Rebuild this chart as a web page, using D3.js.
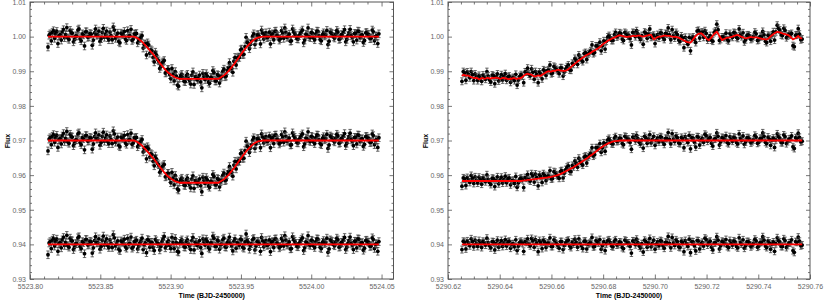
<!DOCTYPE html>
<html>
<head>
<meta charset="utf-8">
<script src="https://cdn.jsdelivr.net/npm/d3@7"></script>
<style>
  body { margin: 0; background: #fff; }
</style>
</head>
<body>
<script>
// ---- data (flux values in units of 1e-4, relative to each curve's baseline) ----
var leftT0 = 5523.8128, leftDt = 0.000787;   // first timestamp, cadence (days)
var rightT0 = 5290.6254, rightDt = 0.000508;

// transit model at each left timestamp
var leftModel = [
  0,0,0,0,0,0,0,0,0,0, 0,0,0,0,0,0,0,0,0,0, 0,0,0,0,0,0,0,0,0,0, 0,0,0,0,0,0,0,0,0,0,
  0,0,0,0,0,0,0,0,0,0, 0,0,0,0,0,0,0,0,0,0, 0,0,0,0,0,0,0,0,0,0, 0,0,0,0,0,0,0,0,0,-2,
  -3,-5,-7,-10,-12,-15,-18,-22,-25,-29, -32,-36,-40,-44,-47,-51,-55,-59,-63,-68,
  -72,-76,-80,-84,-88,-92,-95,-99,-102,-105, -107,-110,-112,-114,-116,-118,-119,-120,-121,-122,
  -122,-122,-122,-122,-122,-122,-122,-122,-122,-122, -122,-122,-122,-122,-122,-122,-122,-122,-122,-122,
  -122,-122,-122,-122,-122,-122,-122,-122,-122,-122, -122,-122,-122,-122,-122,-120,
  -118,-116,-114,-112,-109,-106,-103,-100,-96,-92, -88,-84,-80,-76,-71,-67,-62,-58,-53,-49,
  -44,-40,-36,-32,-28,-25,-21,-18,-14,-12, -9,-7,-5,-4,-2,-2,-1,-1,
  0,0,0,0,0,0,0,0,0,0, 0,0,0,0,0,0,0,0,0,0, 0,0,0,0,0,0,0,0,0,0, 0,0,0,0,0,0,0,0,0,0,
  0,0,0,0,0,0,0,0,0,0, 0,0,0,0,0,0,0,0,0,0, 0,0,0,0,0,0,0,0,0,0, 0,0,0,0,0,0,0,0,0,0,
  0,0,0,0,0,0,0,0,0,0, 0,0,0,0,0,0,0,0,0,0, 0,0,0,0,0,0
];
var leftResid = [
  -30,4,8,-12,12,17,-5,9,15,-20,3,6,-10,13,20,-3,6,26,-4,-8,
  18,11,10,-15,-8,2,2,19,22,-6,-12,8,5,-27,14,14,-2,0,9,7,
  -25,-10,11,22,4,5,16,-14,-6,12,24,-2,7,16,-3,-9,13,3,-9,28,
  19,-5,1,10,-14,-18,10,7,6,15,-7,-11,17,1,3,21,-11,-7,8,9,
  12,-13,-5,4,9,18,-15,-1,4,-24,14,12,-8,6,6,-9,-18,14,10,2,
  2,-16,-6,8,15,23,-10,-4,7,10,-3,-12,20,5,-12,17,5,-20,-22,3,
  9,13,3,-7,-8,9,13,0,-4,-15,11,20,-16,6,6,-3,1,11,-9,-26,
  16,7,-2,15,8,-9,-13,4,4,24,18,-6,-6,12,10,-14,-1,1,14,18,
  -7,-8,5,10,21,3,-4,-19,9,16,-11,5,3,-2,15,13,-8,-11,7,30,
  12,6,-14,-4,2,14,17,-16,-5,9,8,2,-20,20,10,-7,4,11,-3,-1,
  13,-21,6,8,-9,15,16,4,1,-10,-6,17,11,-5,25,12,-2,1,7,-13,
  -12,22,14,9,3,-6,-7,3,9,14,19,-18,-10,7,5,25,0,-3,12,10,
  -4,-9,8,16,15,2,-9,-12,6,11,2,5,18,-23,-13,13,10,8,-1,-4,
  7,18,13,-8,-6,6,4,12,20,-15,-8,3,11,21,3,-2,-15,9,9,-10,
  16,15,-3,4,5,-17,-11,11,12,7,6,-6,-5,19,14,-12,1,2,-20,8
];

// right panel: raw-light-curve model (with systematics), detrended transit model, residuals
var rightSys = [
  -114,-110,-111,-113,-112,-113,-115,-117,-118,-120,-120,-119,-121,-123,-122,-120,-120,-122,-121,-119,
  -119,-121,-121,-119,-120,-120,-118,-120,-120,-122,-121,-119,-119,-121,-121,-123,-123,-121,-122,-120,
  -120,-122,-122,-120,-121,-119,-117,-113,-110,-108,-107,-109,-109,-110,-113,-115,-115,-113,-112,-113,
  -113,-110,-108,-106,-103,-101,-100,-101,-101,-99,-99,-99,-97,-96,-96,-98,-98,-99,-99,-98,
  -97,-94,-91,-88,-84,-81,-78,-75,-72,-69,-66,-63,-60,-58,-55,-53,-51,-49,-47,-44,
  -42,-40,-38,-35,-33,-30,-27,-23,-20,-18,-15,-12,-10,-8,-6,-4,-3,-1,1,3,
  4,3,2,1,0,-1,-1,0,0,1,2,2,1,2,3,3,2,1,0,1,
  2,3,4,5,5,-2,-8,-6,-3,-1,0,0,1,2,3,3,2,2,2,1,
  0,-1,-1,-1,-2,-3,-5,-7,-9,-11,-13,-15,-16,-17,-17,-13,-8,-3,2,5,
  8,9,10,7,3,-1,-5,-8,-10,-6,-2,3,8,11,14,8,2,-4,-10,-8,
  -6,-4,-3,-3,-2,-1,0,2,3,4,5,3,1,-1,-2,-4,-5,-4,-3,-2,
  -1,-2,-2,-2,-2,-3,-4,-5,-6,-7,-7,-8,-8,-6,-3,1,4,7,10,12,
  14,13,12,11,9,8,7,6,5,3,0,-4,-8,-6,-4,-1,2,-2,-5,-5
];
var rightTransit = [
  -117,-117,-117,-117,-117,-117,-117,-117,-117,-117,
  -117,-117,-117,-117,-117,-117,-117,-117,-117,-117,
  -117,-117,-117,-117,-117,-117,-117,-117,-117,-117,
  -117,-117,-117,-117,-117,-117,-117,-117,-117,-117,
  -117,-117,-117,-117,-117,
  -117,-116,-116,-115,-115,-114,-114,-113,-113,-112,-112,-111,-111,-110,-110,
  -109,-109,-108,-108,-107,-107,-106,-106,-105,-104,-103,-102,-101,-100,-98,
  -97,-95,-93,-91,-89,-87,-85,-83,-81,-79,-77,-74,-72,-69,-67,
  -64,-62,-59,-57,-54,-52,-49,-46,-43,-41,-38,-35,-32,-29,-26,
  -23,-20,-18,-15,-13,-11,-9,-7,-6,-4,-3,-2,-2,-1,-1,
  0,0,0,0,0,0,0,0,0,0, 0,0,0,0,0,0,0,0,0,0, 0,0,0,0,0,0,0,0,0,0, 0,0,0,0,0,0,0,0,0,0,
  0,0,0,0,0,0,0,0,0,0, 0,0,0,0,0,0,0,0,0,0, 0,0,0,0,0,0,0,0,0,0, 0,0,0,0,0,0,0,0,0,0,
  0,0,0,0,0,0,0,0,0,0, 0,0,0,0,0,0,0,0,0,0, 0,0,0,0,0,0,0,0,0,0, 0,0,0,0,0,0,0,0,0,0,
  0,0,0,0,0,0,0,0,0,0, 0,0,0,0,0,0,0,0,0,0
];
var rightResid = [
  -15,9,6,-13,10,4,-4,16,8,-7,12,2,-6,11,3,-9,9,5,-2,18,
  5,-4,-10,8,7,-16,2,12,-8,3,11,-6,4,14,-5,7,9,-11,1,2,
  -7,13,-18,-5,6,9,3,-20,8,6,16,1,-4,17,10,-8,14,4,-21,11,
  5,-12,12,7,-9,3,4,19,-6,-6,13,10,2,-2,-11,8,8,-15,-3,5,
  10,12,-5,-9,7,1,15,6,-8,16,3,-4,-12,9,9,-13,1,3,6,20,
  -7,-6,11,8,4,14,-14,-3,8,-18,2,11,13,5,-5,-7,9,13,-2,0,
  7,6,-9,-12,12,10,3,4,-6,-25,10,9,-1,15,5,-5,-10,2,-22,12,
  8,-8,4,17,-7,3,12,-14,1,7,-4,11,9,-4,-11,6,6,23,3,-10,
  20,4,-3,13,8,-7,-9,9,5,-21,11,2,-6,15,-24,8,7,-5,-19,11,
  10,-13,2,6,-5,18,14,-2,6,9,-8,-16,4,5,22,12,-13,-4,9,7,
  3,14,-6,-9,11,3,-2,10,7,-6,-10,19,5,1,13,-11,-4,8,8,4,
  -7,-3,2,15,10,-8,-5,6,6,22,12,-5,-9,10,4,-14,1,7,-20,2,
  19,11,7,-6,-6,16,11,-9,-3,4,5,13,-18,-23,8,6,21,9,-4,-2
];

var levels = [1.00, 0.97, 0.94];          // baselines of the three stacked curves
var leftErr = 0.0011, rightErr = 0.0010;  // error bar half-heights

var yMajor = [0.93, 0.94, 0.95, 0.96, 0.97, 0.98, 0.99, 1.00, 1.01];
var leftXMajor = [5523.80, 5523.85, 5523.90, 5523.95, 5524.00, 5524.05];
var rightXMajor = [5290.62, 5290.64, 5290.66, 5290.68, 5290.70, 5290.72, 5290.74, 5290.76];

var svg = d3.select("body").append("svg")
  .attr("width", 830)
  .attr("height", 302);

var plotTop = 2, plotBottom = 279;
var font = "'Liberation Sans', Arial, sans-serif";

function styleAxis(sel) {
  sel.select(".domain").remove();
  sel.attr("font-family", font).attr("font-size", 7);
  sel.selectAll("line").attr("stroke", "#555").attr("stroke-width", 0.8);
  sel.selectAll("text").attr("fill", "#666");
}

function minorTicks(major, step) {
  var out = [];
  for (var i = 0; i < major.length - 1; i++) {
    var n = Math.round((major[i + 1] - major[i]) / step);
    for (var k = 1; k < n; k++) out.push(major[i] + k * step);
  }
  return out;
}

function drawPanel(p) {
  var x = d3.scaleLinear().domain(p.xDomain).range([p.x0, p.x1]);
  var y = d3.scaleLinear().domain([0.93, 1.01]).range([plotBottom, plotTop]);
  var g = svg.append("g");
  var fmt = d3.format(".2f");

  // axes, ticks inward on all four sides
  g.append("g").attr("transform", "translate(0," + plotBottom + ")")
    .call(d3.axisBottom(x).tickValues(p.xMajor).tickSize(-4.5).tickPadding(5).tickFormat(fmt))
    .call(styleAxis);
  g.append("g").attr("transform", "translate(0," + plotBottom + ")")
    .call(d3.axisBottom(x).tickValues(minorTicks(p.xMajor, p.xMinor)).tickSize(-2.5).tickFormat(""))
    .call(styleAxis);
  g.append("g").attr("transform", "translate(0," + plotTop + ")")
    .call(d3.axisTop(x).tickValues(p.xMajor).tickSize(-4.5).tickFormat(""))
    .call(styleAxis);
  g.append("g").attr("transform", "translate(0," + plotTop + ")")
    .call(d3.axisTop(x).tickValues(minorTicks(p.xMajor, p.xMinor)).tickSize(-2.5).tickFormat(""))
    .call(styleAxis);
  g.append("g").attr("transform", "translate(" + p.x0 + ",0)")
    .call(d3.axisLeft(y).tickValues(yMajor).tickSize(-4).tickPadding(4).tickFormat(fmt))
    .call(styleAxis);
  g.append("g").attr("transform", "translate(" + p.x0 + ",0)")
    .call(d3.axisLeft(y).tickValues(minorTicks(yMajor, 0.002)).tickSize(-2).tickFormat(""))
    .call(styleAxis);
  g.append("g").attr("transform", "translate(" + p.x1 + ",0)")
    .call(d3.axisRight(y).tickValues(yMajor).tickSize(-4).tickFormat(""))
    .call(styleAxis);
  g.append("g").attr("transform", "translate(" + p.x1 + ",0)")
    .call(d3.axisRight(y).tickValues(minorTicks(yMajor, 0.002)).tickSize(-2).tickFormat(""))
    .call(styleAxis);

  g.append("rect")
    .attr("x", p.x0).attr("y", plotTop)
    .attr("width", p.x1 - p.x0).attr("height", plotBottom - plotTop)
    .attr("fill", "none").attr("stroke", "#555").attr("stroke-width", 1);

  // data points with error bars, then the model lines on top
  p.series.forEach(function(s) {
    var pts = p.resid.map(function(r, i) {
      var m = s.model ? s.model[i] : 0;
      return { t: p.t0 + i * p.dt, f: s.level + (m + r) * 1e-4 };
    });
    var pg = g.append("g").selectAll("g").data(pts).join("g");
    pg.append("line")
      .attr("x1", d => x(d.t)).attr("x2", d => x(d.t))
      .attr("y1", d => y(d.f - p.err)).attr("y2", d => y(d.f + p.err))
      .attr("stroke", "#333").attr("stroke-width", 0.8);
    [-1, 1].forEach(function(sgn) {
      pg.append("line")
        .attr("x1", d => x(d.t) - 1.7).attr("x2", d => x(d.t) + 1.7)
        .attr("y1", d => y(d.f + sgn * p.err)).attr("y2", d => y(d.f + sgn * p.err))
        .attr("stroke", "#444").attr("stroke-width", 0.8);
    });
    pg.append("circle")
      .attr("cx", d => x(d.t)).attr("cy", d => y(d.f))
      .attr("r", p.r).attr("fill", "#000");
  });

  p.series.forEach(function(s) {
    var line = d3.line()
      .x((d, i) => x(p.t0 + i * p.dt))
      .y(d => y(s.level + d * 1e-4))
      .curve(s.curve || d3.curveLinear);
    var vals = s.model ? s.model : p.resid.map(() => 0);
    g.append("path")
      .attr("d", line(vals))
      .attr("fill", "none")
      .attr("stroke", "#ff0000")
      .attr("stroke-width", 1.8);
  });

  // axis titles
  g.append("text")
    .attr("transform", "translate(" + (p.x0 - 20) + "," + 141 + ") rotate(-90)")
    .attr("text-anchor", "middle")
    .attr("fill", "#000")
    .attr("font-family", font).attr("font-size", 7).attr("font-weight", "bold")
    .text("Flux");
  g.append("text")
    .attr("x", (p.x0 + p.x1) / 2).attr("y", 298)
    .attr("text-anchor", "middle")
    .attr("fill", "#000")
    .attr("font-family", font).attr("font-size", 7).attr("font-weight", "bold")
    .text("Time (BJD-2450000)");
}

drawPanel({
  x0: 30, x1: 393.5,
  xDomain: [5523.80, 5524.0585],
  xMajor: leftXMajor, xMinor: 0.01,
  t0: leftT0, dt: leftDt, err: leftErr, r: 1.9,
  resid: leftResid,
  series: [
    { level: levels[0], model: leftModel, curve: d3.curveMonotoneX },
    { level: levels[1], model: leftModel, curve: d3.curveMonotoneX },
    { level: levels[2], model: null }
  ]
});

drawPanel({
  x0: 448, x1: 810,
  xDomain: [5290.62, 5290.76],
  xMajor: rightXMajor, xMinor: 0.005,
  t0: rightT0, dt: rightDt, err: rightErr, r: 1.9,
  resid: rightResid,
  series: [
    { level: levels[0], model: rightSys },
    { level: levels[1], model: rightTransit, curve: d3.curveMonotoneX },
    { level: levels[2], model: null }
  ]
});
</script>
</body>
</html>
